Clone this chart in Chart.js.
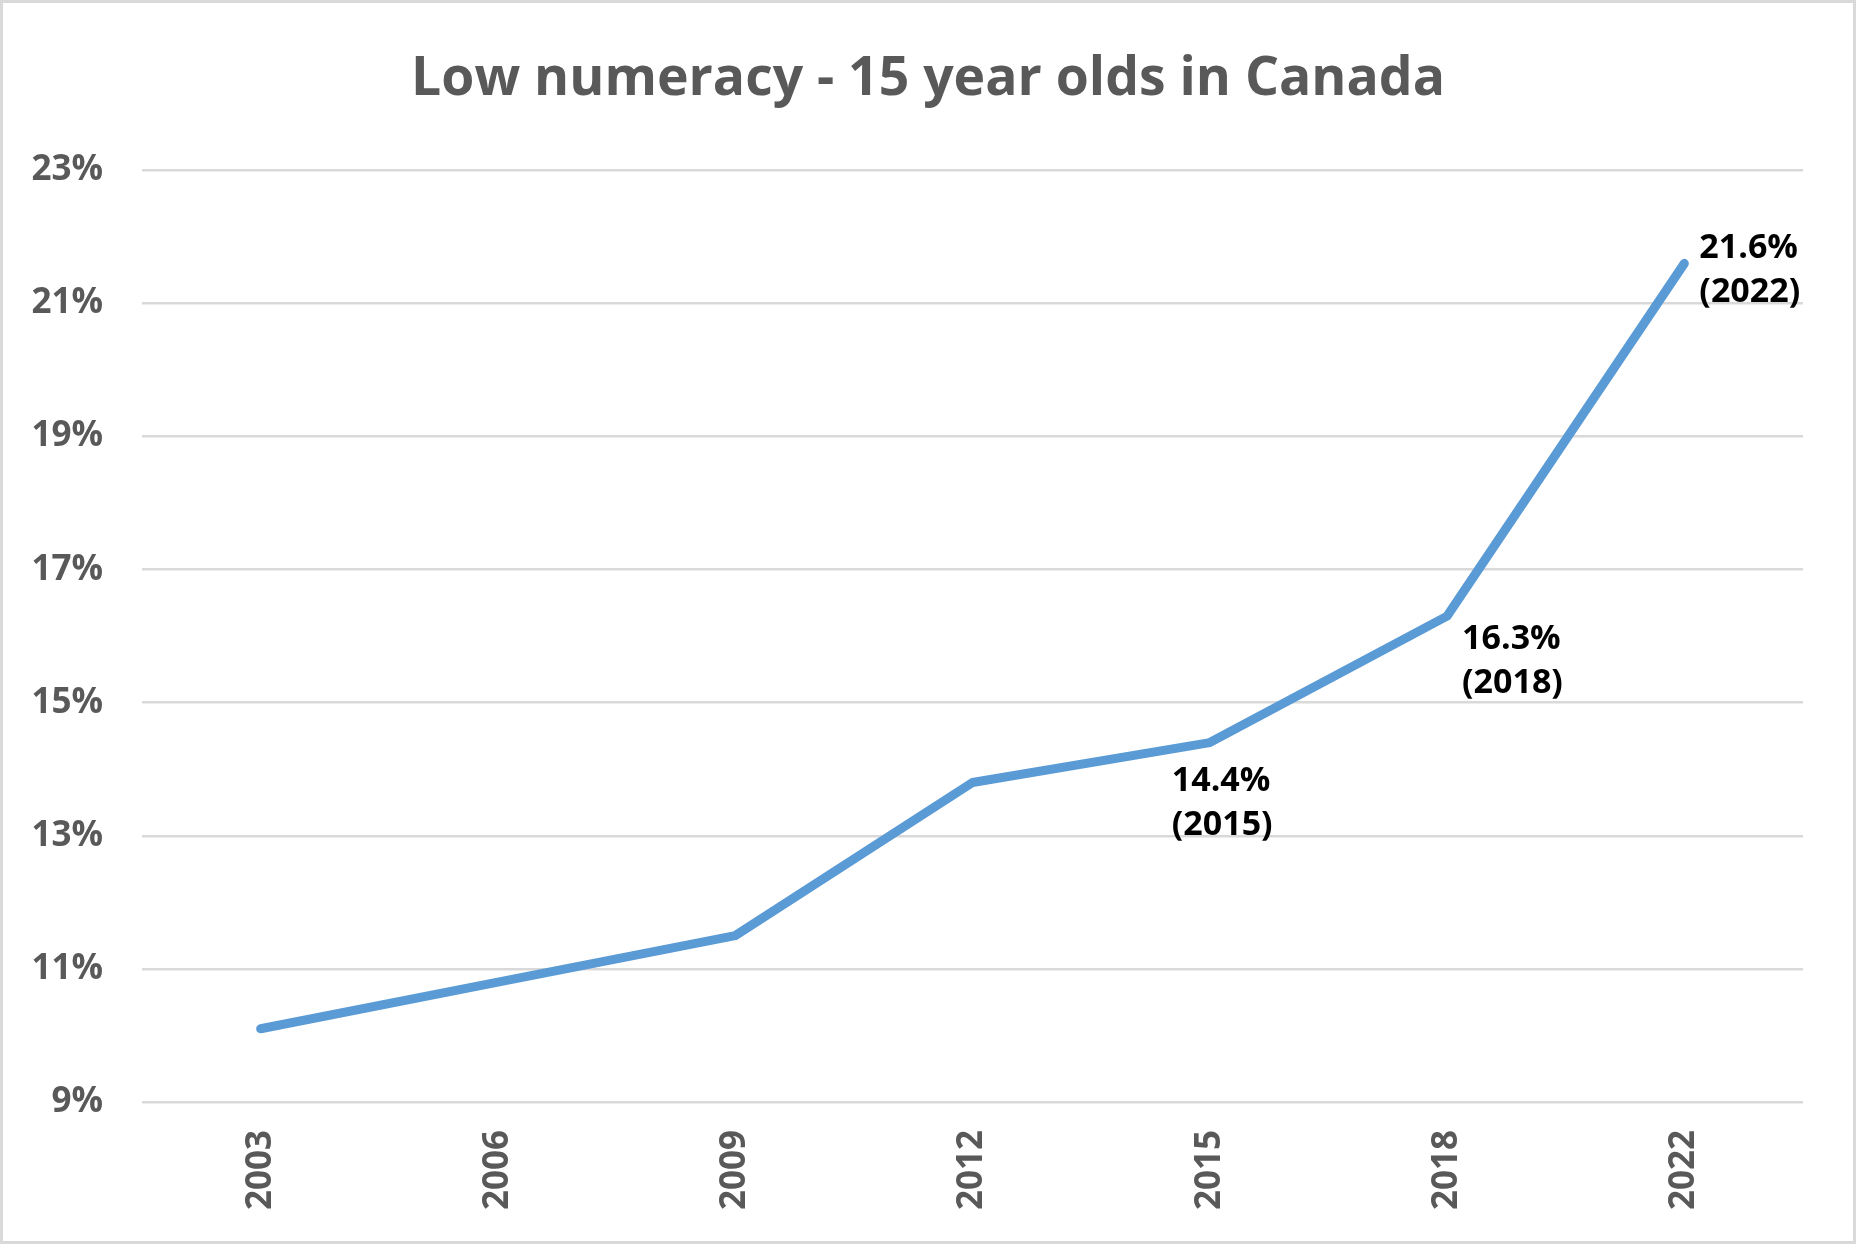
<!DOCTYPE html>
<html>
<head>
<meta charset="utf-8">
<script src="https://cdn.jsdelivr.net/npm/chart.js@4"></script>
<style>
  html, body { margin: 0; padding: 0; background: #fff; }
  #wrap { width: 1856px; height: 1244px; }
</style>
</head>
<body>
<div id="wrap"><canvas id="chart" width="1856" height="1244"></canvas></div>
<script>
// data
const years = ["2003", "2006", "2009", "2012", "2015", "2018", "2022"];
const lowNumeracy = [10.1, 10.8, 11.5, 13.8, 14.4, 16.3, 21.6];
const yTicks = [9, 11, 13, 15, 17, 19, 21, 23];
const labelledYears = ["2015", "2018", "2022"];

// where each point label sits, relative to its point
const labelOffsets = {
    "2015": { dx: -38, dy: 39 },
    "2018": { dx: 15, dy: 23 },
    "2022": { dx: 15, dy: -15 }
};

const gray = "#595959";
const font = "'Open Sans', 'Noto Sans', sans-serif";

const pointLabels = {
    id: "pointLabels",
    afterDatasetsDraw(chart) {
        const ctx = chart.ctx;
        const meta = chart.getDatasetMeta(0);
        ctx.save();
        ctx.fillStyle = "#000";
        ctx.font = "bold 34px " + font;
        ctx.textAlign = "left";
        ctx.textBaseline = "middle";
        labelledYears.forEach(y => {
            const i = years.indexOf(y);
            const pt = meta.data[i];
            const off = labelOffsets[y];
            ctx.fillText(lowNumeracy[i].toFixed(1) + "%", pt.x + off.dx, pt.y + off.dy);
            ctx.fillText("(" + y + ")", pt.x + off.dx, pt.y + off.dy + 44);
        });
        ctx.restore();
    }
};

const frame = {
    id: "frame",
    afterDraw(chart) {
        const ctx = chart.ctx;
        ctx.save();
        ctx.strokeStyle = "#d9d9d9";
        ctx.lineWidth = 3;
        ctx.strokeRect(1.5, 1.5, chart.width - 3, chart.height - 3);
        ctx.restore();
    }
};

new Chart(document.getElementById("chart"), {
    type: "line",
    data: {
        labels: years,
        datasets: [{
            label: "Low numeracy",
            data: lowNumeracy,
            borderColor: "#5b9bd5",
            borderWidth: 9,
            borderCapStyle: "round",
            borderJoinStyle: "round",
            pointRadius: 0,
            tension: 0,
            fill: false
        }]
    },
    options: {
        responsive: false,
        devicePixelRatio: 1,
        animation: false,
        layout: { padding: 0 },
        plugins: {
            legend: { display: false },
            tooltip: { enabled: false },
            title: {
                display: true,
                text: "Low numeracy - 15 year olds in Canada",
                color: gray,
                font: { family: font, size: 53.5, weight: "bold", lineHeight: 1.2 },
                padding: { top: 48, bottom: 58 }
            }
        },
        scales: {
            x: {
                offset: true,
                grid: { display: false, drawTicks: false },
                border: { display: false },
                ticks: {
                    color: gray,
                    font: { family: font, size: 35, weight: "bold" },
                    minRotation: 90,
                    maxRotation: 90,
                    autoSkip: false,
                    padding: 28
                },
                afterFit(scale) { scale.height = 142; }
            },
            y: {
                min: 9,
                max: 23,
                afterBuildTicks(scale) { scale.ticks = yTicks.map(v => ({ value: v })); },
                grid: { color: "#d9d9d9", lineWidth: 2.5, drawTicks: false },
                border: { display: false },
                ticks: {
                    color: gray,
                    font: { family: font, size: 35, weight: "bold" },
                    padding: 39,
                    callback: v => v + "%"
                },
                afterFit(scale) { scale.width = 142; }
            },
            // empty right margin so the title stays centred on the page
            yRight: {
                position: "right",
                grid: { display: false, drawTicks: false },
                border: { display: false },
                ticks: { display: false },
                afterFit(scale) { scale.width = 53; }
            }
        }
    },
    plugins: [pointLabels, frame]
});
</script>
</body>
</html>
